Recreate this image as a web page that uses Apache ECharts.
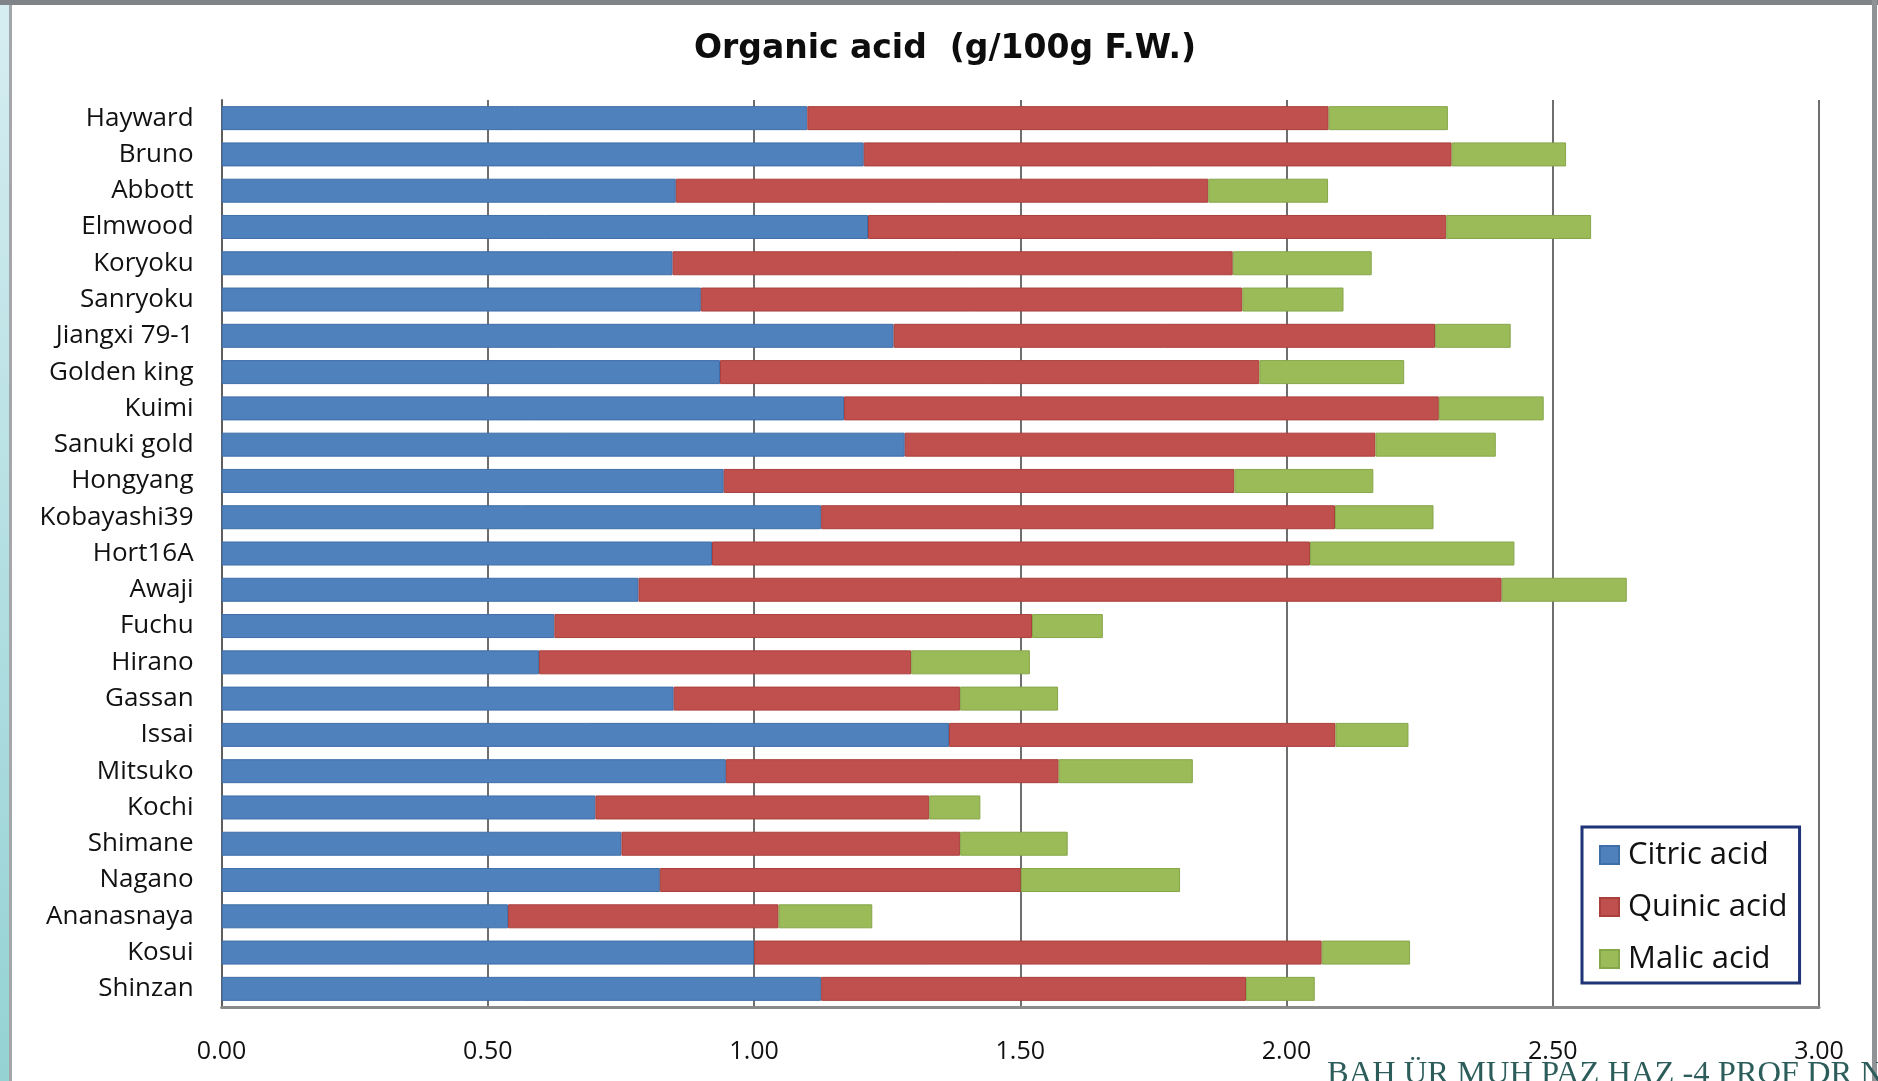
<!DOCTYPE html>
<html>
<head>
<meta charset="utf-8">
<script src="https://cdn.jsdelivr.net/npm/echarts@6/dist/echarts.min.js"></script>
<style>
  html, body { margin: 0; padding: 0; background: #ffffff; }
  #chart { width: 1878px; height: 1081px; }
</style>
</head>
<body>
<div id="chart"></div>
<script>
// Kiwifruit cultivars, listed top to bottom
const categories = [
  'Hayward', 'Bruno', 'Abbott', 'Elmwood', 'Koryoku', 'Sanryoku', 'Jiangxi 79-1',
  'Golden king', 'Kuimi', 'Sanuki gold', 'Hongyang', 'Kobayashi39', 'Hort16A',
  'Awaji', 'Fuchu', 'Hirano', 'Gassan', 'Issai', 'Mitsuko', 'Kochi', 'Shimane',
  'Nagano', 'Ananasnaya', 'Kosui', 'Shinzan'
];

// Organic acid content, g/100g fresh weight
const citric = [
  1.100, 1.206, 0.853, 1.214, 0.847, 0.900, 1.262, 0.936, 1.169, 1.283, 0.943, 1.126, 0.921,
  0.783, 0.625, 0.596, 0.849, 1.366, 0.947, 0.702, 0.751, 0.823, 0.538, 1.000, 1.126
];
const quinic = [
  0.979, 1.104, 1.000, 1.086, 1.052, 1.017, 1.017, 1.013, 1.117, 0.884, 0.959, 0.965, 1.123,
  1.621, 0.897, 0.699, 0.538, 0.726, 0.625, 0.627, 0.636, 0.678, 0.508, 1.066, 0.798
];
const malic = [
  0.224, 0.215, 0.225, 0.272, 0.261, 0.190, 0.142, 0.272, 0.197, 0.226, 0.261, 0.185, 0.384,
  0.235, 0.133, 0.223, 0.184, 0.137, 0.252, 0.096, 0.202, 0.299, 0.176, 0.166, 0.129
];

const seriesNames = ['Citric acid', 'Quinic acid', 'Malic acid'];
const axisMin = 0;
const axisMax = 3;
const axisStep = 0.5;

const fillColors = ['#4f81bd', '#c0504d', '#9bbb59'];
const edgeColors = ['#3f6ea8', '#aa3f3c', '#86a64a'];
const labelFont = '"Open Sans", "Noto Sans", sans-serif';

const chart = echarts.init(document.getElementById('chart'), null, { renderer: 'canvas' });

function barSeries(name, values, i) {
  return {
    name: name,
    type: 'bar',
    stack: 'acid',
    data: values,
    barWidth: 24,
    itemStyle: { color: fillColors[i], borderColor: edgeColors[i], borderWidth: 1 },
    emphasis: { disabled: true }
  };
}

chart.setOption({
  backgroundColor: '#ffffff',
  animation: false,
  title: {
    text: 'Organic acid  (g/100g F.W.)',
    left: 940,
    top: 28,
    textAlign: 'center',
    textStyle: { fontFamily: '"DejaVu Sans", sans-serif', fontWeight: 'bold', fontSize: 33, color: '#0d0d0d' }
  },
  legend: {
    orient: 'vertical',
    left: 1582,
    top: 827,
    data: seriesNames,
    icon: 'rect',
    itemWidth: 19,
    itemHeight: 18,
    itemGap: 18,
    padding: [11, 12, 7, 17],
    borderColor: '#1f3377',
    borderWidth: 3,
    backgroundColor: '#ffffff',
    textStyle: { fontFamily: labelFont, fontSize: 31, color: '#111111', lineHeight: 34, padding: [0, 0, 0, 4] },
    selectedMode: false
  },
  grid: { left: 221.6, right: 1878 - 1819, top: 100, bottom: 1081 - 1007, containLabel: false },
  xAxis: {
    type: 'value',
    min: axisMin,
    max: axisMax,
    interval: axisStep,
    axisLine: { show: true, lineStyle: { color: '#8a8a8a', width: 3 } },
    axisTick: { show: false },
    splitLine: { show: true, lineStyle: { color: '#6e6e6e', width: 2 } },
    axisLabel: {
      margin: 32,
      fontFamily: labelFont,
      fontSize: 25,
      color: '#111111',
      formatter: v => v.toFixed(2)
    }
  },
  yAxis: {
    type: 'category',
    data: categories,
    inverse: true,
    axisLine: { show: true, lineStyle: { color: '#5e5e5e', width: 2 } },
    axisTick: { show: false },
    axisLabel: { margin: 28, fontFamily: labelFont, fontSize: 26, color: '#111111' }
  },
  series: [
    barSeries(seriesNames[0], citric, 0),
    barSeries(seriesNames[1], quinic, 1),
    barSeries(seriesNames[2], malic, 2)
  ],
  graphic: [
    // slide frame: teal strip on the left, grey edges
    {
      type: 'rect', shape: { x: 0, y: 0, width: 9, height: 1081 },
      style: { fill: new echarts.graphic.LinearGradient(0, 0, 0, 1, [
        { offset: 0, color: '#d6edf1' }, { offset: 1, color: '#94d2d4' }
      ]) }
    },
    { type: 'rect', shape: { x: 9, y: 0, width: 3, height: 1081 }, style: { fill: '#a3a7aa' } },
    { type: 'rect', shape: { x: 0, y: 0, width: 1878, height: 5 }, style: { fill: '#7f8488' } },
    { type: 'rect', shape: { x: 1872, y: 0, width: 5, height: 1081 }, style: { fill: '#8f9396' } },
    {
      type: 'text', x: 1327, y: 1058,
      style: {
        text: 'BAH ÜR MUH PAZ HAZ -4 PROF DR N',
        fontFamily: '"Liberation Serif", "DejaVu Serif", serif',
        fontSize: 32.5,
        fill: '#2c5d5a',
        textVerticalAlign: 'top'
      },
      z: 100
    }
  ]
});
</script>
</body>
</html>
